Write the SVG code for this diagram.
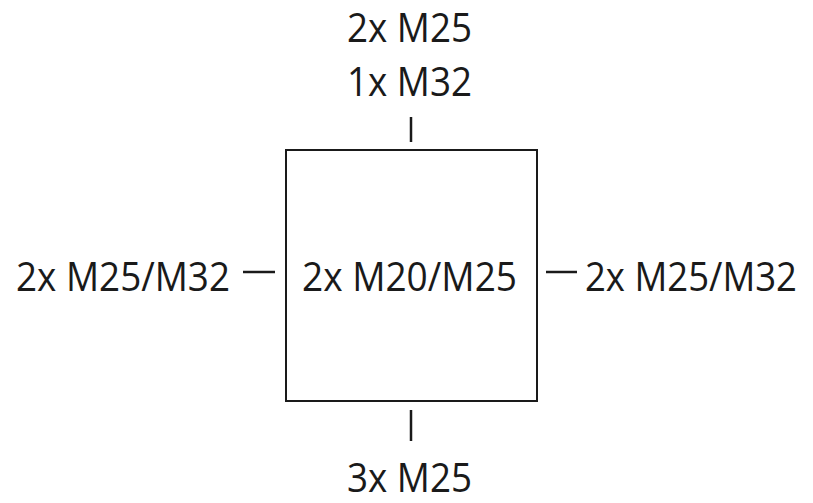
<svg xmlns="http://www.w3.org/2000/svg" width="813" height="503" viewBox="0 0 813 503">
<style>
text{font-family:"Open Sans","Noto Sans",sans-serif;font-size:41px;fill:#1a1a1a;text-anchor:middle}
.ln{stroke:#1a1a1a;stroke-width:2.5;fill:none}
</style>
<rect width="813" height="503" fill="#fff"/>
<g id="box">
<rect x="286" y="150" width="251" height="251" fill="none" stroke="#1a1a1a" stroke-width="2"/>
<text x="409.5" y="291" textLength="215" lengthAdjust="spacingAndGlyphs">2x M20/M25</text>
</g>
<g id="top">
<text x="409.5" y="42" textLength="125" lengthAdjust="spacingAndGlyphs">2x M25</text>
<text x="409.5" y="96" textLength="125" lengthAdjust="spacingAndGlyphs">1x M32</text>
</g>
<g id="left"><text x="123" y="291" textLength="214" lengthAdjust="spacingAndGlyphs">2x M25/M32</text></g>
<g id="right"><text x="691" y="291" textLength="212" lengthAdjust="spacingAndGlyphs">2x M25/M32</text></g>
<g id="bottom"><text x="409.5" y="492" textLength="125" lengthAdjust="spacingAndGlyphs">3x M25</text></g>
<g id="connectors">
<line class="ln" x1="411" y1="117" x2="411" y2="142"/>
<line class="ln" x1="411" y1="410" x2="411" y2="441"/>
<line class="ln" x1="243" y1="272" x2="275" y2="272"/>
<line class="ln" x1="546" y1="272" x2="577" y2="272"/>
</g>
</svg>
